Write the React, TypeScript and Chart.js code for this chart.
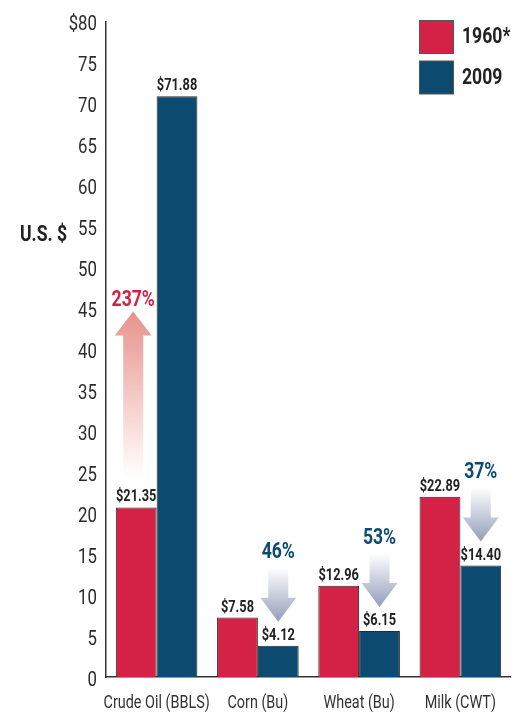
import React, { useEffect, useRef } from "react";
import { Chart, registerables } from "chart.js";

Chart.register(...registerables);

// ---- data ----
const categories = ["Crude Oil (BBLS)", "Corn (Bu)", "Wheat (Bu)", "Milk (CWT)"];
const seriesNames = ["1960*", "2009"];
// bar heights as drawn in the picture
const values1960 = [20.7, 7.25, 11.15, 22.0];
const values2009 = [70.9, 3.8, 5.6, 13.6];
// printed value labels
const labels1960 = ["$21.35", "$7.58", "$12.96", "$22.89"];
const labels2009 = ["$71.88", "$4.12", "$6.15", "$14.40"];
// change annotations
const changeLabels = ["237%", "46%", "53%", "37%"];
const changeUp = [true, false, false, false];
const yMin = 0;
const yMax = 80;
const yStep = 5;
const yAxisTitle = "U.S. $";

const RED = "#d42146";
const BLUE = "#0c4a70";
const FONT = "Roboto, 'Noto Sans', sans-serif";
const SX = 0.8; // horizontal condensing of all text

function condenseText(ctx: CanvasRenderingContext2D) {
  const anyCtx = ctx as any;
  if (anyCtx.__condensed) return;
  anyCtx.__condensed = true;
  const orig = ctx.fillText;
  anyCtx.fillText = function (text: string, x: number, y: number, maxWidth?: number) {
    this.save();
    this.translate(x, y);
    this.scale(SX, 1);
    if (maxWidth !== undefined && maxWidth !== null) {
      orig.call(this, text, 0, 0, maxWidth / SX);
    } else {
      orig.call(this, text, 0, 0);
    }
    this.restore();
  };
}

function drawArrow(
  ctx: CanvasRenderingContext2D,
  cx: number,
  y0: number,
  y1: number,
  shaftW: number,
  headW: number,
  headH: number,
  c0: string,
  c1: string
) {
  const dir = y1 > y0 ? 1 : -1;
  const base = y1 - dir * headH;
  const g = ctx.createLinearGradient(0, y0, 0, y1);
  g.addColorStop(0, c0);
  g.addColorStop(1, c1);
  ctx.save();
  ctx.fillStyle = g;
  ctx.beginPath();
  ctx.moveTo(cx - shaftW / 2, y0);
  ctx.lineTo(cx + shaftW / 2, y0);
  ctx.lineTo(cx + shaftW / 2, base);
  ctx.lineTo(cx + headW / 2, base);
  ctx.lineTo(cx, y1);
  ctx.lineTo(cx - headW / 2, base);
  ctx.lineTo(cx - shaftW / 2, base);
  ctx.closePath();
  ctx.fill();
  ctx.restore();
}

const annotPlugin = {
  id: "annot",
  afterDatasetsDraw(chart: any) {
    const ctx: CanvasRenderingContext2D = chart.ctx;
    const m0 = chart.getDatasetMeta(0);
    const m1 = chart.getDatasetMeta(1);
    ctx.save();
    // value labels
    ctx.font = `bold 16px ${FONT}`;
    ctx.fillStyle = "#222";
    ctx.textAlign = "center";
    ctx.textBaseline = "alphabetic";
    categories.forEach((_, i) => {
      const b0 = m0.data[i];
      const b1 = m1.data[i];
      ctx.fillText(labels1960[i], b0.x, b0.y - 6);
      ctx.fillText(labels2009[i], b1.x, b1.y - 6);
    });
    // arrows
    categories.forEach((_, i) => {
      const b0 = m0.data[i];
      const b1 = m1.data[i];
      ctx.font = `bold 22px ${FONT}`;
      ctx.textBaseline = "middle";
      if (changeUp[i]) {
        const cx = b0.x - 3;
        const tail = b0.y - 30;
        const tip = tail - 166;
        drawArrow(ctx, cx, tail, tip, 20, 37, 24, "rgba(255,255,255,1)", "#e8928c");
        ctx.fillStyle = RED;
        ctx.fillText(changeLabels[i], cx, tip - 11);
      } else {
        const cx = b1.x;
        const tip = b1.y - 24;
        const tail = tip - 54;
        drawArrow(ctx, cx, tail, tip, 20, 36, 24, "rgba(255,255,255,1)", "#939dba");
        ctx.fillStyle = BLUE;
        ctx.fillText(changeLabels[i], cx, tail - 15);
      }
    });
    ctx.restore();
  },
  afterDraw(chart: any) {
    const ctx: CanvasRenderingContext2D = chart.ctx;
    ctx.save();
    // legend
    const colors = [RED, BLUE];
    seriesNames.forEach((name, i) => {
      const y = 20.5 + i * 40.5;
      ctx.fillStyle = colors[i];
      ctx.fillRect(419.5, y, 34, 33);
      ctx.strokeStyle = "#555";
      ctx.lineWidth = 1;
      ctx.strokeRect(419.5, y, 34, 33);
      ctx.fillStyle = "#222";
      ctx.font = `bold 22px ${FONT}`;
      ctx.textAlign = "left";
      ctx.textBaseline = "middle";
      ctx.fillText(name, 462, y + 17);
    });
    // y axis title
    ctx.font = `bold 22px ${FONT}`;
    ctx.fillStyle = "#222";
    ctx.textAlign = "left";
    ctx.textBaseline = "middle";
    ctx.fillText(yAxisTitle, 20, 235);
    ctx.restore();
  },
};

export default function App() {
  const ref = useRef<HTMLCanvasElement | null>(null);
  useEffect(() => {
    document.body.style.margin = "0";
    const canvas = ref.current!;
    const ctx = canvas.getContext("2d")!;
    condenseText(ctx);
    const chart = new Chart(ctx, {
      type: "bar",
      data: {
        labels: categories,
        datasets: [
          {
            label: seriesNames[0],
            data: values1960,
            backgroundColor: RED,
            borderColor: "#2a2a2a",
            borderWidth: 1,
          },
          {
            label: seriesNames[1],
            data: values2009,
            backgroundColor: BLUE,
            borderColor: "#2a2a2a",
            borderWidth: 1,
          },
        ],
      },
      options: {
        animation: false,
        responsive: false,
        maintainAspectRatio: false,
        layout: { padding: { left: 0, right: 9, top: 19, bottom: 0 } },
        plugins: {
          legend: { display: false },
          tooltip: { enabled: false },
          title: { display: false },
        },
        datasets: { bar: { categoryPercentage: 0.806, barPercentage: 1 } },
        scales: {
          x: {
            grid: { display: false, drawTicks: false },
            border: { display: true, color: "#333", width: 1.5 },
            ticks: {
              color: "#333",
              font: { family: FONT, size: 18 },
              padding: 16,
              maxRotation: 0,
              autoSkip: false,
            },
            afterFit: (s: any) => {
              s.height = 37;
            },
          },
          y: {
            min: yMin,
            max: yMax,
            grid: { display: false, drawTicks: false },
            border: { display: true, color: "#333", width: 1.5 },
            ticks: {
              stepSize: yStep,
              color: "#2b2b2b",
              font: { family: FONT, size: 21 },
              padding: 9,
              labelOffset: 3.5,
              callback: (v: any) => (v === yMax ? `$${v}` : `${v}`),
            },
            afterFit: (s: any) => {
              s.width = 106;
            },
          },
        },
      },
      plugins: [annotPlugin],
    });
    return () => chart.destroy();
  }, []);
  return (
    <canvas
      ref={ref}
      width={522}
      height={714}
      style={{ display: "block", width: 522, height: 714 }}
    />
  );
}
